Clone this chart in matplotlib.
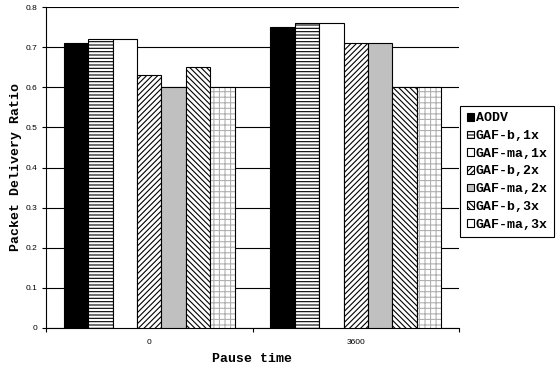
import matplotlib
matplotlib.use("Agg")
import matplotlib.pyplot as plt
import numpy as np
from matplotlib.patches import Patch

categories = ["0", "3600"]
series_names = ["AODV", "GAF-b,1x", "GAF-ma,1x", "GAF-b,2x", "GAF-ma,2x", "GAF-b,3x", "GAF-ma,3x"]
aodv = [0.71, 0.75]
gafb_1x = [0.72, 0.76]
gafma_1x = [0.72, 0.76]
gafb_2x = [0.63, 0.71]
gafma_2x = [0.60, 0.71]
gafb_3x = [0.65, 0.60]
gafma_3x = [0.60, 0.60]
series = [aodv, gafb_1x, gafma_1x, gafb_2x, gafma_2x, gafb_3x, gafma_3x]
yticks = [0, 0.1, 0.2, 0.3, 0.4, 0.5, 0.6, 0.7, 0.8]
ytick_labels = ["0", "0.1", "0.2", "0.3", "0.4", "0.5", "0.6", "0.7", "0.8"]

styles = [
    dict(facecolor="black", hatch=None),
    dict(facecolor="white", hatch="-----"),
    dict(facecolor="white", hatch=None),
    dict(facecolor="white", hatch="//////"),
    dict(facecolor="#c0c0c0", hatch=None),
    dict(facecolor="white", hatch="\\\\\\\\\\\\"),
    dict(facecolor="white", hatch="dotted"),
]

fig = plt.figure(figsize=(5.57, 3.69), dpi=100)
ax = fig.add_axes([46/557, 1-328/369, (459-46)/557, (328-7)/369])
plt.rcParams['hatch.linewidth'] = 0.8

n = len(series)
x = np.arange(len(categories))
group_w = 0.826
w = group_w / n
for i, (vals, st) in enumerate(zip(series, styles)):
    pos = x - group_w/2 + w*(i+0.5)
    if st["hatch"] == "dotted":
        ax.bar(pos, vals, w, facecolor="white", edgecolor="#b0b0b0", hatch="+++", linewidth=0, zorder=3)
        ax.bar(pos, vals, w, facecolor="none", edgecolor="black", linewidth=0.8, zorder=4)
    else:
        ax.bar(pos, vals, w, facecolor=st["facecolor"], edgecolor="black",
               hatch=st["hatch"], linewidth=0.8, zorder=3)

ax.set_xlim(-0.5, 1.5)
ax.set_ylim(0, 0.8)
ax.set_yticks(yticks)
ax.set_yticklabels(ytick_labels, fontsize=6, family="Liberation Sans")
ax.set_xticks([0, 1])
ax.set_xticklabels(categories, fontsize=6, family="Liberation Sans")
ax.set_xticks([-0.5, 0.5, 1.5], minor=True)
ax.tick_params(axis="x", which="major", length=0, pad=8)
ax.tick_params(axis="x", which="minor", length=3, width=0.8, direction="out")
ax.tick_params(axis="y", length=3, width=0.8, direction="out", pad=3)
ax.grid(axis="y", color="black", linewidth=0.8, zorder=0)
ax.set_axisbelow(True)
for s in ["top", "right"]:
    ax.spines[s].set_visible(False)
ax.spines["left"].set_linewidth(0.8)
ax.spines["bottom"].set_linewidth(0.8)

ax.set_ylabel("Packet Delivery Ratio", family="Liberation Mono", fontweight="bold", fontsize=9.5, labelpad=3)
ax.set_xlabel("Pause time", family="Liberation Mono", fontweight="bold", fontsize=9.5, labelpad=5)

handles = []
for name, st in zip(series_names, styles):
    if st["hatch"] == "dotted":
        handles.append(Patch(facecolor="white", edgecolor="black", linewidth=0.8, label=name))
    else:
        handles.append(Patch(facecolor=st["facecolor"], edgecolor="black",
                             hatch=st["hatch"], linewidth=0.8, label=name))
leg = fig.legend(handles=handles, loc="center left", bbox_to_anchor=(460/557, 1-171.5/369),
                 prop=dict(family="Liberation Mono", weight="bold", size=9.5),
                 handlelength=0.55, handleheight=0.55, handletextpad=0.15,
                 labelspacing=0.43, borderpad=0.5, borderaxespad=0.0, fancybox=False, framealpha=1,
                 edgecolor="black")
leg.get_frame().set_linewidth(0.8)

fig.savefig("out.png", dpi=100)
